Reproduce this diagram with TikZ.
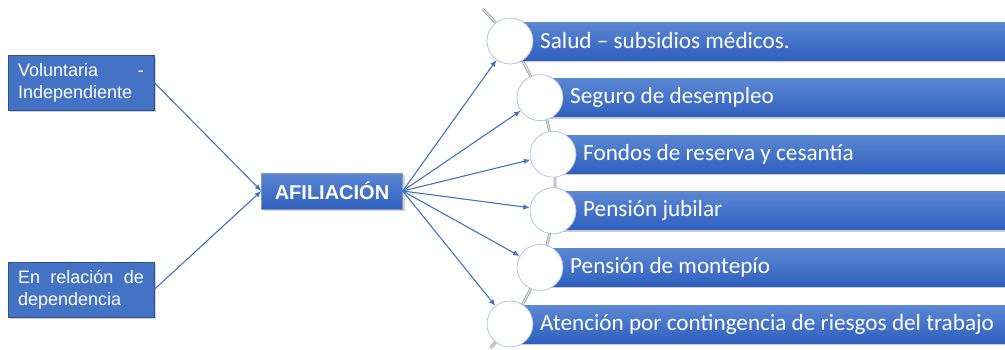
\documentclass[tikz,border=0pt]{standalone}
\usepackage{fontspec}
\setmainfont{Liberation Sans}
\newfontfamily\calibri{Carlito}
\usepackage{tikz}
\usetikzlibrary{arrows.meta,shadows}
\definecolor{offblue}{HTML}{4472C4}
\definecolor{bartop}{HTML}{5B87D3}
\definecolor{barbottom}{HTML}{2F60BE}
\definecolor{boxline}{HTML}{2F528F}
\definecolor{ringline}{HTML}{A8BFE6}

\begin{document}
\begin{tikzpicture}
    [ x=1pt, y=-1pt,
      inbox/.style={draw=boxline, fill=offblue, text=white,
        minimum width=146pt, minimum height=55pt, text width=126pt,
        align=justify, font=\fontsize{18}{22}\selectfont,
        drop shadow={opacity=.35, shadow xshift=2pt, shadow yshift=-2pt}},
      hub/.style={draw=boxline!60, top color=bartop, bottom color=barbottom,
        text=white, minimum width=141pt, minimum height=36pt,
        font=\fontsize{20}{24}\selectfont\bfseries,
        drop shadow={opacity=.35, shadow xshift=2pt, shadow yshift=-2pt}},
      bar/.style={top color=bartop, bottom color=barbottom,
        drop shadow={opacity=.4, shadow xshift=1pt, shadow yshift=-2pt}},
      bartext/.style={text=white, anchor=west, inner sep=0pt,
        font=\calibri\fontsize{23.2}{27}\selectfont},
      ring/.style={circle, draw=ringline, fill=white, line width=.7pt,
        minimum size=46pt, inner sep=0pt},
      rail/.style={draw=gray!75, double=gray!25, double distance=1.2pt, line width=.8pt},
      link/.style={draw=offblue, line width=1.1pt, -{Latex[length=6.5pt,width=5.5pt]}},
    ]
    \useasboundingbox (0,0) rectangle (1005,349);

    \node[inbox] (vol) at (81,82.5) {Voluntaria - \mbox{Independiente}};
    \node[inbox] (rel) at (81,289.5) {En relación de \mbox{dependencia}};
    \node[hub] (afil) at (332,191) {AFILIACIÓN};

    % curved rail behind the circles
    \draw[rail] (311,182.5) ++(-45.3:244) arc[start angle=-45.3, end angle=42.7, radius=244];

    \foreach \cy / \cx / \txt [count=\i] in {
        41/510/{Salud – subsidios médicos.},
        97.6/540/{Seguro de desempleo},
        154.2/553/{Fondos de reserva y cesantía},
        210.8/553/{Pensión jubilar},
        267.4/540/{Pensión de montepío},
        324/510/{Atención por contingencia de riesgos del trabajo}} {
        \path[bar] (\cx,\cy-19) rectangle (1005,\cy+19);
        \node[ring] (c\i) at (\cx,\cy) {};
        \node[bartext] (t\i) at (\cx+30,\cy) {\txt};
        \draw[link] (afil.east) -- (c\i);
    }

    \draw[link] (vol.east) -- (afil.west);
    \draw[link] (rel.east) -- (afil.west);
\end{tikzpicture}
\end{document}
